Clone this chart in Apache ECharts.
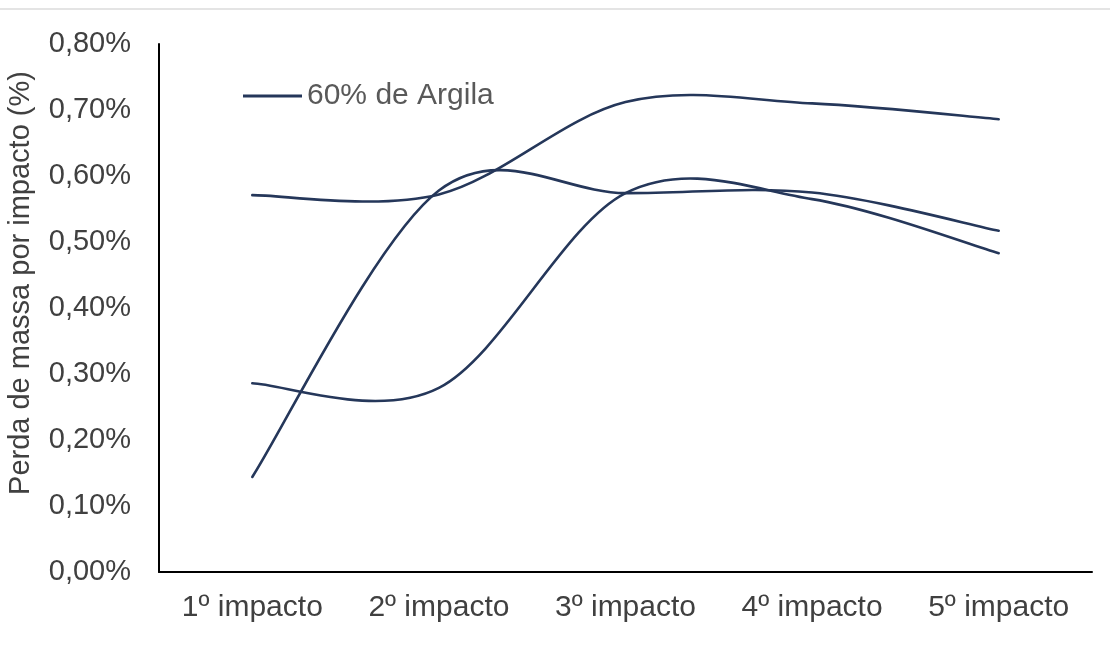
<!DOCTYPE html>
<html>
<head>
<meta charset="utf-8">
<script src="https://cdn.jsdelivr.net/npm/echarts@6/dist/echarts.min.js"></script>
<style>
  html, body { margin: 0; padding: 0; background: #fff; }
  #chart { width: 1110px; height: 650px; }
</style>
</head>
<body>
<div id="chart"></div>
<script>
var categories = ['1º impacto', '2º impacto', '3º impacto', '4º impacto', '5º impacto'];
var seriesName = '60% de Argila';
// three curves, all drawn under the same legend entry
var lineA = [0.144, 0.578, 0.574, 0.575, 0.517];
var lineB = [0.571, 0.572, 0.712, 0.710, 0.686];
var lineC = [0.286, 0.279, 0.574, 0.565, 0.483];
var yTicks = { min: 0, max: 0.8, interval: 0.1 };

var chart = echarts.init(document.getElementById('chart'), null, { renderer: 'canvas' });

var lineColor = '#25375a';
var font = 'Liberation Sans, Arial, sans-serif';

// excel style smoothing (catmull-rom through the data points, overshoot allowed)
function curveRenderer(values) {
  return function (params, api) {
    if (params.dataIndex !== 0) return;
    var pts = values.map(function (v, i) { return api.coord([i, v]); });
    var d = 'M' + pts[0][0] + ' ' + pts[0][1];
    for (var i = 0; i < pts.length - 1; i++) {
      var p0 = pts[i - 1] || pts[i];
      var p1 = pts[i];
      var p2 = pts[i + 1];
      var p3 = pts[i + 2] || pts[i + 1];
      var c1x = p1[0] + (p2[0] - p0[0]) / 6;
      var c1y = p1[1] + (p2[1] - p0[1]) / 6;
      var c2x = p2[0] - (p3[0] - p1[0]) / 6;
      var c2y = p2[1] - (p3[1] - p1[1]) / 6;
      d += ' C' + c1x + ' ' + c1y + ' ' + c2x + ' ' + c2y + ' ' + p2[0] + ' ' + p2[1];
    }
    return {
      type: 'path',
      shape: { pathData: d },
      style: { fill: 'none', stroke: lineColor, lineWidth: 2.6, lineCap: 'round' }
    };
  };
}

function makeLine(values) {
  return {
    name: seriesName,
    type: 'custom',
    renderItem: curveRenderer(values),
    data: values.map(function (v, i) { return [i, v]; }),
    encode: { x: 0, y: 1 },
    itemStyle: { color: lineColor },
    silent: true
  };
}

var option = {
  animation: false,
  textStyle: { fontFamily: font },
  grid: { left: 159, right: 18, top: 44, bottom: 78, outerBoundsMode: 'none', containLabel: false },
  legend: {
    data: [seriesName],
    left: 238,
    top: 76,
    icon: 'path://M0,0L60,0L60,3L0,3Z',
    itemWidth: 59,
    itemHeight: 3,
    textStyle: { fontSize: 30, color: '#595959', fontFamily: font }
  },
  xAxis: {
    type: 'category',
    data: categories,
    boundaryGap: true,
    axisLine: { lineStyle: { color: '#000', width: 2 } },
    axisTick: { show: false },
    axisLabel: { fontSize: 30, color: '#404040', margin: 21 }
  },
  yAxis: {
    type: 'value',
    min: yTicks.min,
    max: yTicks.max,
    interval: yTicks.interval,
    name: 'Perda de massa por impacto (%)',
    nameLocation: 'middle',
    nameGap: 124,
    nameRotate: 90,
    nameTextStyle: { fontSize: 29, color: '#404040', padding: [0, 0, 0, 50] },
    axisLine: { show: true, lineStyle: { color: '#000', width: 2 } },
    axisTick: { show: false },
    splitLine: { show: false },
    axisLabel: {
      fontSize: 29,
      color: '#404040',
      margin: 28,
      formatter: function (v) {
        return v.toFixed(2).replace('.', ',') + '%';
      }
    }
  },
  graphic: [{
    type: 'rect',
    shape: { x: 0, y: 8, width: 1110, height: 2 },
    style: { fill: '#e4e4e4' },
    silent: true
  }],
  series: [makeLine(lineA), makeLine(lineB), makeLine(lineC)]
};

chart.setOption(option);
window.addEventListener('resize', chart.resize);
</script>
</body>
</html>
